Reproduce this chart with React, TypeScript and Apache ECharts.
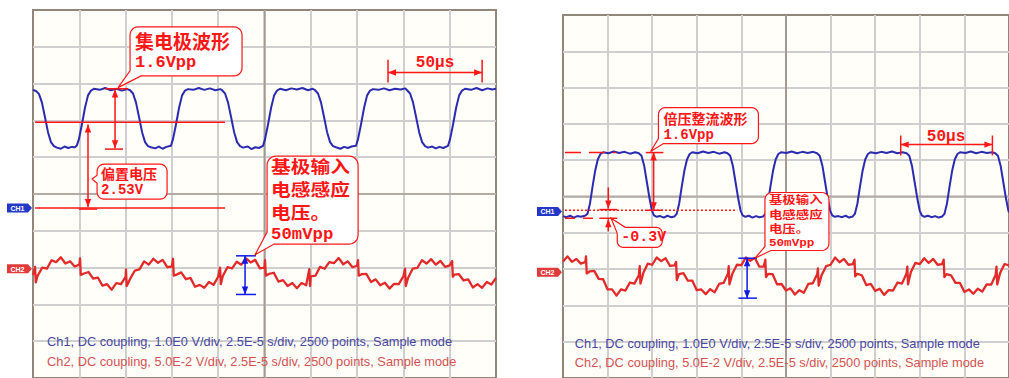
import React, { useEffect, useRef } from "react";
import * as echarts from "echarts";

// Time axis in µs (25 µs / div, 10 div); vertical axis in screen divisions (-5..5)
const TIME_MIN = 0;
const TIME_MAX = 250;
const TIME_DIV = 25;
const DIV_MIN = -5;
const DIV_MAX = 5;
const CH2_STEP_US = 2.5;

// ---------- Left scope: Ch1 (collector waveform) ----------
const ch1Left: [number, number][] = [
  [0, 2.83], [1.6, 2.8], [3.2, 2.72], [4.8, 2.49], [6.5, 2.08], [8.1, 1.68], [9.7, 1.41], [11.3, 1.3], [12.9, 1.26], [15, 1.23], [17, 1.29], [19, 1.25], [21, 1.28], [22.6, 1.27], [23.7, 1.32], [24.8, 1.49], [26.4, 1.89], [28.1, 2.35], [29.7, 2.68], [31.3, 2.81], [32.9, 2.86], [36, 2.83], [39, 2.88], [42, 2.82], [45, 2.86], [48, 2.81], [51, 2.85],
  [52.4, 2.82], [54.0, 2.73], [55.6, 2.49], [57.3, 2.08], [58.9, 1.68], [60.5, 1.41], [62.1, 1.3], [63.7, 1.27], [66, 1.24], [68, 1.29], [70, 1.23], [72, 1.28], [74.5, 1.31], [75.6, 1.49], [77.2, 1.89], [78.9, 2.35], [80.5, 2.68], [82.1, 2.81], [83.7, 2.85], [86.5, 2.83], [89.5, 2.88], [92.5, 2.83], [95.5, 2.87], [98.5, 2.82], [101, 2.85],
  [102.1, 2.82], [103.7, 2.73], [105.3, 2.49], [107.0, 2.08], [108.6, 1.68], [110.2, 1.41], [111.8, 1.3], [113.4, 1.26], [116, 1.29], [118, 1.22], [120, 1.27], [122, 1.25], [124.2, 1.31], [125.3, 1.49], [126.9, 1.89], [128.6, 2.35], [130.2, 2.68], [131.8, 2.81], [133.4, 2.86], [136.5, 2.82], [139.5, 2.87], [142.5, 2.84], [145.5, 2.88], [148.5, 2.82], [151, 2.86],
  [152.3, 2.82], [153.9, 2.73], [155.5, 2.49], [157.2, 2.08], [158.8, 1.68], [160.4, 1.41], [162.0, 1.3], [163.6, 1.27], [166, 1.23], [168, 1.28], [170, 1.25], [172, 1.29], [174.4, 1.31], [175.5, 1.49], [177.1, 1.89], [178.8, 2.35], [180.4, 2.68], [182.0, 2.81], [183.6, 2.85], [186.5, 2.83], [189.5, 2.87], [192.5, 2.82], [195.5, 2.86], [198.5, 2.84], [201, 2.87],
  [202.0, 2.82], [203.6, 2.73], [205.2, 2.49], [206.9, 2.08], [208.5, 1.68], [210.1, 1.41], [211.7, 1.3], [213.3, 1.26], [215.5, 1.29], [217.5, 1.24], [219.5, 1.28], [221.5, 1.25], [224.1, 1.31], [225.2, 1.49], [226.8, 1.89], [228.5, 2.35], [230.1, 2.68], [231.7, 2.81], [233.3, 2.86], [236.5, 2.83], [239.5, 2.88], [242.5, 2.82], [245.5, 2.87], [248, 2.84], [250, 2.86],
];

// ---------- Left scope: Ch2 (base induced voltage), one value per 2.5 µs ----------
const ch2Left: number[] = [
  -2.2, -2.22, -2.0, -2.03, -1.8, -1.85, -1.72, -1.89, -1.83, -1.97,
  -1.92, -2.16, -2.12, -2.3, -2.27, -2.49, -2.45, -2.6, -2.42, -2.45,
  -2.25, -2.3, -2.08, -2.05, -1.83, -1.92, -1.76, -1.87, -1.79, -1.99,
  -1.97, -2.19, -2.13, -2.31, -2.28, -2.52, -2.47, -2.55, -2.39, -2.47,
  -2.25, -2.23, -1.99, -2.02, -1.84, -1.92, -1.75, -1.86, -1.79, -2.02,
  -2.0, -2.17, -2.14, -2.38, -2.34, -2.5, -2.42, -2.56, -2.42, -2.48,
  -2.24, -2.22, -1.98, -2.03, -1.85, -1.88, -1.74, -1.91, -1.83, -1.99,
  -1.95, -2.18, -2.17, -2.39, -2.32, -2.48, -2.41, -2.57, -2.44, -2.45,
  -2.24, -2.28, -2.03, -2.01, -1.8, -1.89, -1.77, -1.92, -1.82, -1.98,
  -1.94, -2.19, -2.18, -2.35, -2.32, -2.54, -2.45, -2.55, -2.39, -2.46,
  -2.28,
];
const ch2LeftSpikes: [number, number][] = [
  [1.1, -1.98], [1.5, -2.4], [25.4, -1.75], [25.8, -2.2], [50.2, -2.05], [50.6, -2.5],
  [75.6, -1.76], [76.0, -2.22], [101.0, -2.0], [101.4, -2.45], [125.3, -1.8], [125.7, -2.22],
  [149.2, -2.04], [149.6, -2.5], [175.5, -1.8], [175.9, -2.22], [200.9, -2.03], [201.3, -2.5],
  [226.3, -1.82], [226.7, -2.25],
];

// ---------- Right scope: Ch1 (voltage-doubler rectified waveform) ----------
const ch1Right: [number, number][] = [
  [0, -0.54], [2, -0.57], [4, -0.53], [6, -0.58], [8, -0.54], [10, -0.56], [12.3, -0.53], [13.7, -0.48], [15.1, -0.2], [16.5, 0.25], [18.0, 0.7], [19.5, 1.02], [21.0, 1.17], [22.5, 1.22], [25.5, 1.19], [28.5, 1.24], [31.5, 1.2], [34.5, 1.23], [37.5, 1.18], [40.5, 1.22],
  [42.5, 1.19], [44.0, 1.12], [45.5, 0.85], [47.0, 0.4], [48.5, -0.05], [49.8, -0.38], [51.0, -0.52], [52.5, -0.56], [54.5, -0.54], [56.5, -0.58], [58.5, -0.53], [60.5, -0.57], [62.5, -0.55], [63.7, -0.48], [65.1, -0.2], [66.5, 0.25], [68.0, 0.7], [69.5, 1.02], [71.0, 1.17], [72.5, 1.22], [75.5, 1.19], [78.5, 1.24], [81.5, 1.2], [84.5, 1.23], [87.5, 1.18], [90.5, 1.22],
  [92.2, 1.19], [93.7, 1.12], [95.2, 0.85], [96.7, 0.4], [98.2, -0.05], [99.5, -0.38], [100.7, -0.52], [102.2, -0.56], [104.2, -0.53], [106.2, -0.58], [108.2, -0.54], [110.2, -0.57], [112.2, -0.55], [113.4, -0.48], [114.8, -0.2], [116.2, 0.25], [117.7, 0.7], [119.2, 1.02], [120.7, 1.17], [122.2, 1.22], [125.2, 1.2], [128.2, 1.24], [131.2, 1.19], [134.2, 1.23], [137.2, 1.2], [140.2, 1.23],
  [142.4, 1.19], [143.9, 1.12], [145.4, 0.85], [146.9, 0.4], [148.4, -0.05], [149.7, -0.38], [150.9, -0.52], [152.4, -0.56], [154.4, -0.54], [156.4, -0.57], [158.4, -0.53], [160.4, -0.58], [162.4, -0.55], [163.6, -0.48], [165.0, -0.2], [166.4, 0.25], [167.9, 0.7], [169.4, 1.02], [170.9, 1.17], [172.4, 1.22], [175.4, 1.19], [178.4, 1.23], [181.4, 1.2], [184.4, 1.24], [187.4, 1.19], [190.4, 1.22],
  [192.6, 1.19], [194.1, 1.12], [195.6, 0.85], [197.1, 0.4], [198.6, -0.05], [199.9, -0.38], [201.1, -0.52], [202.6, -0.56], [204.6, -0.53], [206.6, -0.57], [208.6, -0.54], [210.6, -0.58], [212.6, -0.55], [213.8, -0.48], [215.2, -0.2], [216.6, 0.25], [218.1, 0.7], [219.6, 1.02], [221.1, 1.17], [222.6, 1.22], [225.6, 1.2], [228.6, 1.24], [231.6, 1.19], [234.6, 1.23], [237.6, 1.2], [240.6, 1.22],
  [242.3, 1.19], [243.8, 1.12], [245.3, 0.85], [246.8, 0.4], [248.3, -0.05], [249.6, -0.38], [250, -0.44],
];

// ---------- Right scope: Ch2 (base induced voltage), one value per 2.5 µs ----------
const ch2Right: number[] = [
  -1.79, -1.65, -1.8, -1.72, -1.85, -1.81, -2.06, -2.05, -2.27, -2.28,
  -2.56, -2.56, -2.73, -2.56, -2.59, -2.37, -2.4, -2.17, -2.11, -1.85,
  -1.88, -1.68, -1.78, -1.7, -1.91, -1.9, -2.14, -2.11, -2.32, -2.32,
  -2.58, -2.56, -2.69, -2.55, -2.64, -2.41, -2.38, -2.12, -2.12, -1.88,
  -1.89, -1.68, -1.77, -1.69, -1.93, -1.93, -2.13, -2.14, -2.42, -2.41,
  -2.59, -2.53, -2.7, -2.58, -2.65, -2.41, -2.39, -2.14, -2.16, -1.92,
  -1.88, -1.68, -1.81, -1.72, -1.88, -1.86, -2.13, -2.17, -2.44, -2.41,
  -2.6, -2.54, -2.71, -2.58, -2.59, -2.37, -2.4, -2.13, -2.08, -1.83,
  -1.86, -1.7, -1.83, -1.72, -1.88, -1.86, -2.14, -2.17, -2.38, -2.38,
  -2.63, -2.56, -2.68, -2.54, -2.62, -2.42, -2.43, -2.16, -2.11, -1.86,
  -1.9,
];
const ch2RightSpikes: [number, number][] = [
  [12.9, -1.65], [13.3, -2.12], [43.0, -1.92], [43.4, -2.4], [63.4, -1.8], [63.8, -2.3],
  [92.9, -1.92], [93.3, -2.42], [113.4, -1.74], [113.8, -2.22], [142.9, -1.98], [143.3, -2.46],
  [163.4, -1.74], [163.8, -2.2], [193.0, -1.93], [193.4, -2.42], [213.4, -1.74], [213.8, -2.22],
  [243.0, -1.93], [243.4, -2.42],
];

// ---------- Texts ----------
const footerCh1 = "Ch1, DC coupling, 1.0E0 V/div, 2.5E-5 s/div, 2500 points, Sample mode";
const footerCh2 = "Ch2, DC coupling, 5.0E-2 V/div, 2.5E-5 s/div, 2500 points, Sample mode";
const calloutLeftCollector = ["集电极波形", "1.6Vpp"];
const calloutLeftBias = ["偏置电压", "2.53V"];
const calloutBaseInput = ["基极输入", "电感感应", "电压。", "50mVpp"];
const calloutRightDoubler = ["倍压整流波形", "1.6Vpp"];
const calloutRightOffset = ["-0.3V"];
const timeSpanLabel = "50μs";

const FONT_CJK = '"Noto Sans CJK SC", "Noto Sans CJK JP", sans-serif';
const FONT_MONO = '"Liberation Mono", "DejaVu Sans Mono", monospace';
const FONT_SANS = '"Liberation Sans", Arial, sans-serif';
const RED = "#ff1616";
const BLUE_MARK = "#0d1ae8";

function buildTrace(values: number[], spikes: [number, number][]): [number, number][] {
  const pts: [number, number][] = values.map((v, i) => [i * CH2_STEP_US, v]);
  return pts.concat(spikes).sort((a, b) => a[0] - b[0]);
}

function buildGraphics(chart: any) {
  const P = (g: number, t: number, v: number): number[] =>
    chart.convertToPixel({ gridIndex: g }, [t, v]) as number[];
  const els: any[] = [];

  const head = (tip: number[], from: number[], color: string) => {
    const dx = tip[0] - from[0];
    const dy = tip[1] - from[1];
    const len = Math.hypot(dx, dy) || 1;
    const ux = dx / len;
    const uy = dy / len;
    const L = 8;
    const W = 3.2;
    const bx = tip[0] - ux * L;
    const by = tip[1] - uy * L;
    els.push({
      type: "polygon",
      shape: { points: [[tip[0], tip[1]], [bx - uy * W, by + ux * W], [bx + uy * W, by - ux * W]] },
      style: { fill: color },
      z: 11,
      silent: true,
    });
  };

  const seg = (g: number, a: number[], b: number[], o: any = {}) => {
    const p1 = P(g, a[0], a[1]);
    const p2 = P(g, b[0], b[1]);
    const color = o.color || RED;
    els.push({
      type: "line",
      shape: { x1: p1[0], y1: p1[1], x2: p2[0], y2: p2[1] },
      style: { stroke: color, lineWidth: o.width || 1.5, lineDash: o.dash || null },
      z: o.z || 10,
      silent: true,
    });
    if (o.headEnd) head(p2, p1, color);
    if (o.headStart) head(p1, p2, color);
  };

  const text = (x: number, y: number, s: string, o: any) => {
    els.push({
      type: "text",
      x,
      y,
      scaleX: o.scaleX || 1,
      style: {
        text: s,
        fill: o.color || RED,
        fontSize: o.size,
        fontFamily: o.family,
        fontWeight: o.weight || "bold",
        align: o.align || "left",
        verticalAlign: "middle",
        textAlign: o.align || "left",
        textVerticalAlign: "middle",
      },
      z: o.z || 13,
      silent: true,
    });
  };

  const callout = (c: any) => {
    const tl = P(c.g, c.tl[0], c.tl[1]);
    const x1 = tl[0];
    const y1 = tl[1];
    const x2 = x1 + c.w;
    const y2 = y1 + c.h;
    const r = c.r;
    const tip = P(c.g, c.tail.tip[0], c.tail.tip[1]);
    const arc = (cx: number, cy: number, a0: number, a1: number) => {
      const out: number[][] = [];
      for (let k = 0; k <= 6; k++) {
        const a = ((a0 + ((a1 - a0) * k) / 6) * Math.PI) / 180;
        out.push([cx + r * Math.cos(a), cy + r * Math.sin(a)]);
      }
      return out;
    };
    const pts: number[][] = [];
    pts.push(...arc(x2 - r, y1 + r, -90, 0));
    pts.push(...arc(x2 - r, y2 - r, 0, 90));
    if (c.tail.kind === "bl") pts.push([x1 + c.tail.a, y2], tip, [x1, y2 - c.tail.b]);
    else pts.push(...arc(x1 + r, y2 - r, 90, 180));
    if (c.tail.kind === "left") pts.push([x1, y1 + c.tail.a], tip, [x1, y1 + c.tail.b]);
    if (c.tail.kind === "tl") pts.push([x1, y1 + c.tail.b], tip, [x1 + c.tail.a, y1]);
    else pts.push(...arc(x1 + r, y1 + r, 180, 270));
    els.push({
      type: "polygon",
      shape: { points: pts },
      style: { fill: "#ffffff", stroke: RED, lineWidth: 1.2 },
      z: 12,
      silent: true,
    });
    c.lines.forEach((ln: any) => text(x1 + ln.dx, y1 + ln.dy, ln.text, ln));
  };

  // center graticule lines
  [0, 1].forEach((g) => {
    seg(g, [125, DIV_MIN], [125, DIV_MAX], { color: "#a59a91", width: 2, z: 1 });
    seg(g, [TIME_MIN, 0], [TIME_MAX, 0], { color: "#b3aaa3", width: 2, z: 1 });
  });

  // channel badges
  const badge = (g: number, v: number, label: string, color: string) => {
    const left = P(g, 0, v);
    const x = left[0];
    const y = left[1];
    els.push({
      type: "polygon",
      shape: { points: [[x - 26, y - 4.5], [x - 5, y - 4.5], [x - 1, y], [x - 5, y + 4.5], [x - 26, y + 4.5]] },
      style: { fill: color },
      z: 12,
      silent: true,
    });
    text(x - 15.5, y + 0.5, label, { color: "#ffffff", size: 7, family: FONT_SANS, align: "center" });
  };
  badge(0, -0.38, "CH1", "#2338c8");
  badge(0, -2.03, "CH2", "#e03a3a");
  badge(1, -0.41, "CH1", "#2338c8");
  badge(1, -2.09, "CH2", "#e03a3a");

  // ----- left scope annotations -----
  seg(0, [44.3, 2.84], [44.3, 1.24], { headStart: true, headEnd: true });
  seg(0, [38.9, 2.86], [51.3, 2.86]);
  seg(0, [38.9, 1.22], [48.6, 1.22]);
  seg(0, [1.1, 1.95], [103.7, 1.95]);
  seg(0, [29.7, 1.89], [29.7, -0.35], { headStart: true, headEnd: true });
  seg(0, [1.1, -0.38], [103.7, -0.38]);
  seg(0, [24.8, -0.41], [34.6, -0.41]);
  seg(0, [114.5, -1.68], [114.5, -2.73], { color: BLUE_MARK, headStart: true, headEnd: true });
  seg(0, [109.6, -1.68], [120.4, -1.68], { color: BLUE_MARK });
  seg(0, [109.6, -2.73], [120.4, -2.73], { color: BLUE_MARK });
  seg(0, [191.7, 3.65], [191.7, 3.03]);
  seg(0, [242.5, 3.65], [242.5, 3.03]);
  seg(0, [191.7, 3.3], [242.5, 3.3], { headStart: true, headEnd: true });
  {
    const p = P(0, 217.1, 3.57);
    text(p[0], p[1], timeSpanLabel, { size: 16, family: FONT_MONO, align: "center" });
  }

  callout({
    g: 0, tl: [52.4, 4.54], w: 112, h: 49, r: 8,
    tail: { kind: "bl", a: 11, b: 5, tip: [45.9, 2.89] },
    lines: [
      { text: calloutLeftCollector[0], dx: 5, dy: 14, size: 19, family: FONT_CJK },
      { text: calloutLeftCollector[1], dx: 5, dy: 36, size: 17, family: FONT_MONO },
    ],
  });
  callout({
    g: 0, tl: [34.6, 0.81], w: 70, h: 35, r: 7,
    tail: { kind: "left", a: 19, b: 11, tip: [31.9, 0.41] },
    lines: [
      { text: calloutLeftBias[0], dx: 4, dy: 9, size: 14, family: FONT_CJK },
      { text: calloutLeftBias[1], dx: 4, dy: 26, size: 14, family: FONT_MONO },
    ],
  });
  callout({
    g: 0, tl: [126.4, 1.03], w: 91, h: 88, r: 9,
    tail: { kind: "bl", a: 7, b: 12, tip: [119.9, -1.65] },
    lines: [
      { text: calloutBaseInput[0], dx: 4, dy: 10, size: 17, scaleX: 1.16, family: FONT_CJK },
      { text: calloutBaseInput[1], dx: 4, dy: 33, size: 17, scaleX: 1.16, family: FONT_CJK },
      { text: calloutBaseInput[2], dx: 4, dy: 56, size: 17, scaleX: 1.16, family: FONT_CJK },
      { text: calloutBaseInput[3], dx: 4, dy: 78.5, size: 16, scaleX: 1.08, family: FONT_MONO },
    ],
  });

  // ----- right scope annotations -----
  seg(1, [1.1, 1.21], [29.8, 1.21], { dash: [16, 8] });
  seg(1, [46.4, 1.21], [56.3, 1.21]);
  seg(1, [50.8, 1.21], [50.8, -0.38], { headStart: true, headEnd: true });
  seg(1, [46.9, -0.38], [55.8, -0.38]);
  seg(1, [1.1, -0.38], [97.7, -0.38], { dash: [2, 2] });
  seg(1, [25.4, 0.25], [25.4, -0.33], { headEnd: true });
  seg(1, [20.4, -0.36], [30.4, -0.36]);
  seg(1, [25.4, -0.96], [25.4, -0.63], { headEnd: true });
  seg(1, [20.4, -0.6], [30.4, -0.6]);
  seg(1, [1.1, -0.6], [19.3, -0.6], { dash: [10, 8] });
  seg(1, [103.2, -1.7], [103.2, -2.8], { color: BLUE_MARK, headStart: true, headEnd: true });
  seg(1, [98.3, -1.7], [108.7, -1.7], { color: BLUE_MARK });
  seg(1, [98.3, -2.8], [108.7, -2.8], { color: BLUE_MARK });
  seg(1, [189.3, 1.68], [189.3, 1.13]);
  seg(1, [240.7, 1.68], [240.7, 1.13]);
  seg(1, [189.3, 1.43], [240.7, 1.43], { headStart: true, headEnd: true });
  {
    const p = P(1, 214.7, 1.65);
    text(p[0], p[1], timeSpanLabel, { size: 16, family: FONT_MONO, align: "center" });
  }

  callout({
    g: 1, tl: [53.5, 2.45], w: 100, h: 36, r: 7,
    tail: { kind: "bl", a: 5, b: 5, tip: [49.1, 1.24] },
    lines: [
      { text: calloutRightDoubler[0], dx: 5, dy: 10, size: 14, family: FONT_CJK },
      { text: calloutRightDoubler[1], dx: 5, dy: 27, size: 14, family: FONT_MONO },
    ],
  });
  callout({
    g: 1, tl: [30.4, -0.85], w: 45, h: 20, r: 6,
    tail: { kind: "tl", a: 8, b: 6, tip: [27.0, -0.6] },
    lines: [{ text: calloutRightOffset[0], dx: 4, dy: 10, size: 15, family: FONT_MONO }],
  });
  callout({
    g: 1, tl: [113.2, 0.11], w: 64, h: 58, r: 7,
    tail: { kind: "bl", a: 6, b: 4, tip: [107.6, -1.7] },
    lines: [
      { text: calloutBaseInput[0], dx: 4, dy: 7, size: 11, scaleX: 1.22, family: FONT_CJK },
      { text: calloutBaseInput[1], dx: 4, dy: 21.7, size: 11, scaleX: 1.22, family: FONT_CJK },
      { text: calloutBaseInput[2], dx: 4, dy: 36.4, size: 11, scaleX: 1.22, family: FONT_CJK },
      { text: calloutBaseInput[3], dx: 4, dy: 51.1, size: 11, scaleX: 1.15, family: FONT_MONO },
    ],
  });

  // footers
  const footer = (g: number, t: number, v1: number, v2: number) => {
    const a = P(g, t, v1);
    const b = P(g, t, v2);
    text(a[0], a[1], footerCh1, { color: "#4848a2", size: 12.8, family: FONT_SANS, weight: "normal", z: 9 });
    text(b[0], b[1], footerCh2, { color: "#d45252", size: 12.8, family: FONT_SANS, weight: "normal", z: 9 });
  };
  footer(0, 7.6, -4.0, -4.54);
  footer(1, 6.6, -4.04, -4.56);

  return els;
}

export default function App() {
  const ref = useRef<HTMLDivElement>(null);

  useEffect(() => {
    if (!ref.current) return;
    const chart = echarts.init(ref.current, undefined, { renderer: "svg" });

    const gridBase = {
      show: true,
      backgroundColor: "#fffef9",
      borderColor: "#918679",
      borderWidth: 2,
    };
    const xAxisBase = {
      type: "value",
      min: TIME_MIN,
      max: TIME_MAX,
      interval: TIME_DIV,
      axisLine: { show: false },
      axisTick: { show: false },
      axisLabel: { show: false },
      splitLine: { show: true, showMinLine: false, showMaxLine: false, lineStyle: { color: "#cfcfcf", width: 2 } },
    };
    const yAxisBase = {
      type: "value",
      min: DIV_MIN,
      max: DIV_MAX,
      interval: 1,
      axisLine: { show: false },
      axisTick: { show: false },
      axisLabel: { show: false },
      splitLine: { show: true, showMinLine: false, showMaxLine: false, lineStyle: { color: "#cfcfcf", width: 2 } },
    };
    const trace = (g: number, data: [number, number][], color: string, width: number) => ({
      type: "line",
      xAxisIndex: g,
      yAxisIndex: g,
      data,
      symbol: "none",
      showSymbol: false,
      silent: true,
      z: 3,
      lineStyle: { color, width, join: "round" },
    });

    chart.setOption({
      animation: false,
      backgroundColor: "#ffffff",
      grid: [
        { ...gridBase, left: 33, top: 10, width: 463, height: 370 },
        { ...gridBase, left: 563, top: 15, width: 453, height: 364 },
      ],
      xAxis: [
        { ...xAxisBase, gridIndex: 0 },
        { ...xAxisBase, gridIndex: 1 },
      ],
      yAxis: [
        { ...yAxisBase, gridIndex: 0 },
        { ...yAxisBase, gridIndex: 1 },
      ],
      series: [
        trace(0, ch1Left, "#2b2bb0", 2),
        trace(0, buildTrace(ch2Left, ch2LeftSpikes), "#e22a2a", 2.3),
        trace(1, ch1Right, "#2b2bb0", 2),
        trace(1, buildTrace(ch2Right, ch2RightSpikes), "#e22a2a", 2.3),
      ],
    });

    chart.setOption({ graphic: { elements: buildGraphics(chart) } });

    return () => chart.dispose();
  }, []);

  return (
    <div
      ref={ref}
      style={{ position: "absolute", left: 0, top: 0, width: 1009, height: 378, background: "#ffffff" }}
    />
  );
}
